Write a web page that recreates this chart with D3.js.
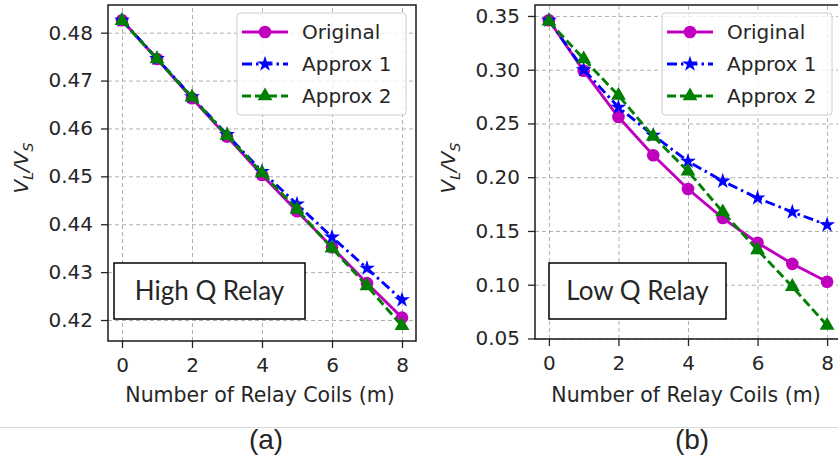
<!DOCTYPE html>
<html>
<head>
<meta charset="utf-8">
<script src="https://cdn.jsdelivr.net/npm/d3@7"></script>
<style>
  body { margin: 0; background: #fff; }
  svg { display: block; }
  text { font-family: "DejaVu Sans", sans-serif; fill: #262626; }
</style>
</head>
<body>
<div id="graph"></div>
<script>
// values
const coils = [0, 1, 2, 3, 4, 5, 6, 7, 8];

const highOriginal = [0.4826, 0.4745, 0.4663, 0.4583, 0.4503, 0.4427, 0.4352, 0.4277, 0.4205];
const highApprox1 = [0.4826, 0.4746, 0.4666, 0.4587, 0.4510, 0.4442, 0.4373, 0.4308, 0.4242];
const highApprox2 = [0.4825, 0.4745, 0.4665, 0.4585, 0.4507, 0.4431, 0.4350, 0.4271, 0.4188];

const lowOriginal = [0.346, 0.299, 0.2560, 0.2204, 0.1890, 0.1620, 0.1390, 0.1194, 0.1028];
const lowApprox1 = [0.346, 0.300, 0.2650, 0.2390, 0.2148, 0.1963, 0.1806, 0.1676, 0.1556];
const lowApprox2 = [0.345, 0.310, 0.2760, 0.2380, 0.2056, 0.1676, 0.1324, 0.0982, 0.0620];

const highTicks = [0.42, 0.43, 0.44, 0.45, 0.46, 0.47, 0.48];
const lowTicks = [0.05, 0.10, 0.15, 0.20, 0.25, 0.30, 0.35];
const xTicks = [0, 2, 4, 6, 8];

const seriesNames = ["Original", "Approx 1", "Approx 2"];

const w = 838;
const h = 458;

const colors = { "Original": "#bf00bf", "Approx 1": "#0000ff", "Approx 2": "#008000" };
const dashes = { "Original": null, "Approx 1": "10,4,2.5,4", "Approx 2": "9,4" };
const symbols = {
  "Original": d3.symbol().type(d3.symbolCircle).size(125),
  "Approx 1": d3.symbol().type(d3.symbolStar).size(78),
  "Approx 2": d3.symbol().type(d3.symbolTriangle).size(95)
};

const svg = d3.select("#graph").append("svg").attr("width", w).attr("height", h);

function panel(opts) {
  const xScale = d3.scaleLinear().domain([-0.4, 8.4]).range([opts.left, opts.right]);
  const yScale = d3.scaleLinear().domain(opts.yDomain).range([opts.bottom, opts.top]);
  const innerW = opts.right - opts.left;
  const innerH = opts.bottom - opts.top;

  const g = svg.append("g");

  // grid
  const xGrid = d3.axisBottom(xScale).tickValues(xTicks).tickSize(-innerH).tickFormat("");
  const yGrid = d3.axisLeft(yScale).tickValues(opts.yTicks).tickSize(-innerW).tickFormat("");
  g.append("g").attr("class", "grid").attr("transform", `translate(0, ${opts.bottom})`).call(xGrid);
  g.append("g").attr("class", "grid").attr("transform", `translate(${opts.left}, 0)`).call(yGrid);
  g.selectAll(".grid .domain").remove();
  g.selectAll(".grid line")
    .attr("stroke", "#b0b0b0")
    .attr("stroke-width", 1)
    .attr("stroke-dasharray", "4,3");

  const line = d3.line().x((d, i) => xScale(coils[i])).y((d) => yScale(d));
  const plot = g.append("g");

  seriesNames.forEach(function (name, k) {
    const vals = opts.series[k];
    plot.append("path")
      .datum(vals)
      .attr("d", line)
      .attr("fill", "none")
      .attr("stroke", colors[name])
      .attr("stroke-width", 2.9)
      .attr("stroke-dasharray", dashes[name]);
    plot.selectAll(".m" + k)
      .data(vals)
      .enter()
      .append("path")
      .attr("class", "m" + k)
      .attr("transform", (d, i) => `translate(${xScale(coils[i])}, ${yScale(d)})`)
      .attr("d", symbols[name]())
      .attr("fill", colors[name]);
  });

  // axes
  const xAxis = d3.axisBottom(xScale).tickValues(xTicks).tickSize(7).tickPadding(10);
  const yAxis = d3.axisLeft(yScale).tickValues(opts.yTicks).tickSize(7).tickPadding(8).tickFormat(d3.format(".2f"));
  const gx = g.append("g").attr("transform", `translate(0, ${opts.bottom})`).call(xAxis);
  const gy = g.append("g").attr("transform", `translate(${opts.left}, 0)`).call(yAxis);
  [gx, gy].forEach(function (a) {
    a.select(".domain").remove();
    a.selectAll("line").attr("stroke", "#262626").attr("stroke-width", 1.3);
    a.selectAll("text").style("font-size", "20px").attr("fill", "#262626").style("font-family", "DejaVu Sans");
  });

  g.append("rect")
    .attr("x", opts.left).attr("y", opts.top)
    .attr("width", innerW).attr("height", innerH)
    .attr("fill", "none").attr("stroke", "#1a1a1a").attr("stroke-width", 1.5);

  g.append("text")
    .attr("x", (opts.left + opts.right) / 2 - 2)
    .attr("y", 402)
    .attr("text-anchor", "middle")
    .style("font-size", "20.5px")
    .text("Number of Relay Coils (m)");

  const yl = g.append("text")
    .attr("transform", `translate(${opts.left - 80}, 168) rotate(-90)`)
    .attr("text-anchor", "middle")
    .style("font-size", "20px")
    .style("font-style", "italic");
  yl.append("tspan").text("V");
  yl.append("tspan").text("L").attr("dy", 5).style("font-size", "14px");
  yl.append("tspan").text("/V").attr("dy", -5);
  yl.append("tspan").text("S").attr("dy", 5).style("font-size", "14px");

  // legend
  const lg = g.append("g").attr("transform", `translate(${opts.legendX}, 13)`);
  lg.append("rect")
    .attr("width", opts.legendW).attr("height", 102).attr("rx", 3)
    .attr("fill", "#fff").attr("fill-opacity", 0.8)
    .attr("stroke", "#cccccc").attr("stroke-width", 1);
  seriesNames.forEach(function (name, k) {
    const yy = 19 + k * 32;
    lg.append("line")
      .attr("x1", 5).attr("x2", 51).attr("y1", yy).attr("y2", yy)
      .attr("stroke", colors[name]).attr("stroke-width", 2.9)
      .attr("stroke-dasharray", dashes[name]);
    lg.append("path")
      .attr("transform", `translate(28, ${yy})`)
      .attr("d", symbols[name]())
      .attr("fill", colors[name]);
    lg.append("text")
      .attr("x", 65).attr("y", yy + 7)
      .style("font-size", "20px")
      .text(name);
  });

  // annotation box
  g.append("rect")
    .attr("x", opts.boxX).attr("y", 263)
    .attr("width", opts.boxW).attr("height", 56)
    .attr("fill", "#fff").attr("stroke", "#000").attr("stroke-width", 1.5);
  g.append("text")
    .attr("x", opts.boxX + opts.boxW / 2).attr("y", 300)
    .attr("text-anchor", "middle")
    .style("font-family", "Lato, 'Open Sans', sans-serif")
    .style("font-size", "26px")
    .attr("fill", "#000")
    .text(opts.label);

  svg.append("text")
    .attr("x", opts.captionX).attr("y", 449)
    .attr("text-anchor", "middle")
    .style("font-family", "'Liberation Sans', Arial, sans-serif")
    .style("font-size", "28px")
    .attr("fill", "#000")
    .text(opts.caption);
}

svg.append("line")
  .attr("x1", 0).attr("x2", w).attr("y1", 427.5).attr("y2", 427.5)
  .attr("stroke", "#d9d9d9").attr("stroke-width", 1);

panel({
  left: 108, right: 416, top: 5, bottom: 341,
  yDomain: [0.41562, 0.48578], yTicks: highTicks,
  series: [highOriginal, highApprox1, highApprox2],
  legendX: 237, legendW: 169, boxX: 114, boxW: 191, label: "High Q Relay",
  caption: "(a)", captionX: 266
});

panel({
  left: 535, right: 841, top: 5, bottom: 339,
  yDomain: [0.0495, 0.3602], yTicks: lowTicks,
  series: [lowOriginal, lowApprox1, lowApprox2],
  legendX: 662, legendW: 170, boxX: 549, boxW: 177, label: "Low Q Relay",
  caption: "(b)", captionX: 692
});
</script>
</body>
</html>
